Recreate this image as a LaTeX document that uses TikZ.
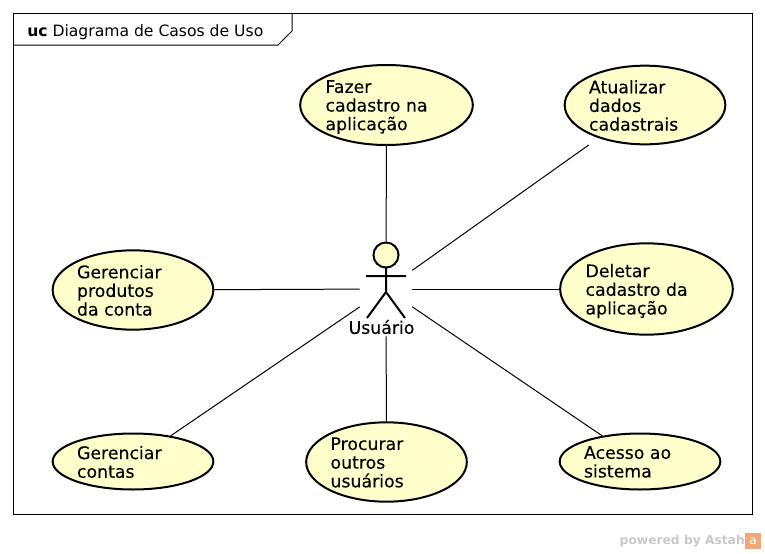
\documentclass[tikz,border=0pt]{standalone}
\usepackage{fontspec}
\setmainfont{DejaVu Sans}
\newfontfamily\casefont[FakeBold=0.15]{DejaVu Sans}
\usetikzlibrary{shapes.geometric}
\definecolor{usecasefill}{HTML}{FFFFCC}
\definecolor{astahgray}{HTML}{C8C8C8}
\definecolor{astahorange}{HTML}{F0A878}
\newcommand{\casetext}[2][84pt]{\raisebox{-1.5pt}[\height][\depth]{\parbox{#1}{#2\vphantom{ç}}}}
\tikzset{
    usecase/.style={ellipse, draw=black, fill=usecasefill, line width=1.5pt, inner sep=0pt,
        font={\casefont\fontsize{13}{14}\selectfont}},
    assoc/.style={draw=black, line width=0.75pt},
    stick/.style={draw=black, line width=1.5pt}
}
\begin{document}
\begin{tikzpicture}[x=0.75pt, y=-0.75pt]
    \useasboundingbox (0,0) rectangle (765,554);
    % frame and tab
    \draw[line width=0.75pt] (13.5,13.5) rectangle (752.5,514.5);
    \draw[line width=0.75pt] (13.5,45) -- (278,45) -- (292,31) -- (292,13.5);
    \node[anchor=west, inner sep=0pt, font={\fontsize{11.7}{14}\selectfont}] (title) at (27,32)
        {\textbf{uc} Diagrama de Casos de Uso};
    % use cases
    \node[usecase, minimum width=129.5pt, minimum height=60pt] (fazer) at (386.5,105)
        {\casetext[91.5pt]{Fazer\\cadastro na\\aplicação}};
    \node[usecase, minimum width=120.5pt, minimum height=59pt] (atualizar) at (645,105)
        {\casetext{Atualizar\\dados\\cadastrais}};
    \node[usecase, minimum width=129.5pt, minimum height=68.5pt] (deletar) at (646.5,289)
        {\casetext[91.5pt]{Deletar\\cadastro da\\aplicação}};
    \node[usecase, minimum width=120.5pt, minimum height=59.5pt] (produtos) at (133,290)
        {\casetext{Gerenciar\\produtos\\da conta}};
    \node[usecase, minimum width=120.5pt, minimum height=42pt] (contas) at (133,461.5)
        {\casetext{Gerenciar\\contas}};
    \node[usecase, minimum width=120.5pt, minimum height=59.5pt] (procurar) at (386.5,462)
        {\casetext{Procurar\\outros\\usuários}};
    \node[usecase, minimum width=120.5pt, minimum height=42pt] (acesso) at (640,461.5)
        {\casetext{Acesso ao\\sistema}};
    % actor
    \node[minimum width=39pt, minimum height=70.5pt, inner sep=0pt] (ator) at (386,289) {};
    \foreach \target in {fazer, deletar, produtos, contas, procurar, acesso}
        \draw[assoc] (ator) -- (\target);
    \draw[assoc, shorten >=9pt] (ator) -- (atualizar);
    \draw[stick, fill=usecasefill] (386,255) circle[radius=9.4pt];
    \draw[stick] (386,268) -- (386,292) (366,276) -- (406,276)
        (367,318) -- (386,292) -- (405,318);
    \node[inner sep=0pt, font={\casefont\fontsize{13}{14}\selectfont}] (usuario) at (381.5,327) {Usuário};
    % watermark
    \node[anchor=east, inner sep=0pt, text=astahgray, font={\fontsize{9.2}{11}\bfseries\selectfont}] (astah) at (745,541)
        {powered by Astah};
    \node[anchor=west, fill=astahorange, text=white, inner sep=0pt, minimum size=11.5pt,
        font={\fontsize{9}{9}\selectfont}] (logo) at (745,541) {a};
\end{tikzpicture}
\end{document}
